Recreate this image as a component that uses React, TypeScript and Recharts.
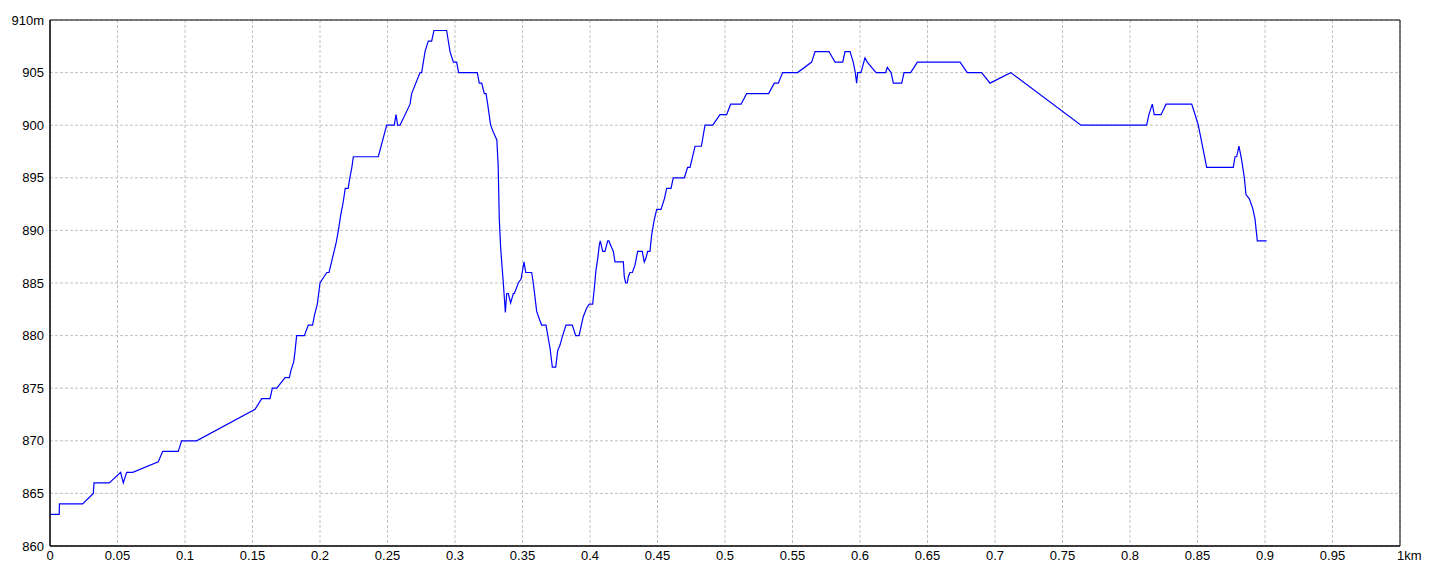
import { LineChart, Line, XAxis, YAxis, CartesianGrid, ReferenceArea } from "recharts";

// distance along the route (km) and elevation (m)
const distances = [
  0, 0.0068, 0.007, 0.0242, 0.0321, 0.0326, 0.0439, 0.0523, 0.0543, 0.0568,
  0.0613, 0.0802, 0.0835, 0.095, 0.0975, 0.1086, 0.1519, 0.1568, 0.163, 0.1647,
  0.168, 0.1741, 0.1773, 0.1785, 0.1805, 0.1815, 0.1827, 0.1884, 0.1913, 0.1945,
  0.196, 0.198, 0.2, 0.205, 0.2067, 0.2089, 0.2121, 0.2136, 0.2154, 0.2172,
  0.2187, 0.2209, 0.2221, 0.2236, 0.2247, 0.2432, 0.2494, 0.255, 0.2563, 0.2575,
  0.2593, 0.2667, 0.2679, 0.2741, 0.2753, 0.2778, 0.2802, 0.2827, 0.2844, 0.2938,
  0.2963, 0.2988, 0.3012, 0.3027, 0.3165, 0.318, 0.3198, 0.3217, 0.323, 0.3242,
  0.3264, 0.3285, 0.331, 0.332, 0.3328, 0.3338, 0.335, 0.3358, 0.3365, 0.3373,
  0.3383, 0.3395, 0.3412, 0.3432, 0.344, 0.3469, 0.349, 0.3511, 0.3524, 0.3568,
  0.358, 0.3605, 0.3624, 0.3642, 0.3674, 0.3704, 0.3721, 0.3746, 0.3761, 0.3778,
  0.3795, 0.3822, 0.3869, 0.3894, 0.3919, 0.3933, 0.395, 0.3975, 0.3995, 0.402,
  0.4032, 0.4044, 0.4057, 0.4069, 0.4076, 0.4094, 0.4111, 0.4131, 0.414, 0.4156,
  0.4173, 0.4185, 0.4247, 0.4254, 0.4264, 0.4276, 0.4284, 0.4296, 0.4314, 0.4333,
  0.4353, 0.4387, 0.4402, 0.4413, 0.4427, 0.4444, 0.4457, 0.4469, 0.4476, 0.4494,
  0.4526, 0.4551, 0.4568, 0.46, 0.4617, 0.4699, 0.4723, 0.4741, 0.4778, 0.4825,
  0.4852, 0.4909, 0.4963, 0.5012, 0.5042, 0.5119, 0.516, 0.5323, 0.5365, 0.5395,
  0.5427, 0.5538, 0.5642, 0.5667, 0.577, 0.5815, 0.5872, 0.5889, 0.5926, 0.595,
  0.5965, 0.5975, 0.5983, 0.6007, 0.6037, 0.6054, 0.6119, 0.619, 0.6202, 0.623,
  0.6247, 0.6309, 0.6326, 0.6375, 0.6425, 0.6741, 0.6795, 0.6901, 0.6963, 0.7116,
  0.7637, 0.8123, 0.814, 0.8165, 0.818, 0.823, 0.8267, 0.8457, 0.8475, 0.8506,
  0.8568, 0.8765, 0.8778, 0.879, 0.8807, 0.8827, 0.8847, 0.8859, 0.8884, 0.8909,
  0.8926, 0.8943, 0.9012,
];

const elevations = [
  863, 863, 864, 864, 865, 866, 866, 867, 866, 867,
  867, 868, 869, 869, 870, 870, 873, 874, 874, 875,
  875, 876, 876, 876.7, 877.5, 878.5, 880, 880, 881, 881,
  882, 883, 885, 886, 886, 887.2, 888.9, 890, 891.5, 892.7,
  894, 894, 895, 896, 897, 897, 900, 900, 901, 900,
  900, 902, 903, 905, 905, 907, 908, 908, 909, 909,
  907, 906, 906, 905, 905, 904, 904, 903, 903, 902,
  900, 899.3, 898.6, 896.1, 891.1, 888.4, 886.3, 885, 883.7, 882.2,
  884, 884, 883.1, 884, 884, 885, 885.4, 887, 886, 886,
  885, 882.3, 881.6, 881, 881, 878.8, 877, 877, 878.6, 879.1,
  879.9, 881, 881, 880, 880, 880.8, 881.8, 882.6, 883, 883,
  884.5, 886.2, 887.3, 888.6, 889, 888, 888, 889, 889, 888.5,
  888, 887, 887, 885.6, 885, 885, 885.6, 886, 886, 886.7,
  888, 888, 887, 887.3, 888, 888, 889.6, 890.5, 891, 892,
  892, 893, 894, 894, 895, 895, 896, 896, 898, 898,
  900, 900, 901, 901, 902, 902, 903, 903, 904, 904,
  905, 905, 906, 907, 907, 906, 906, 907, 907, 906,
  905, 904, 905, 905, 906.4, 906, 905, 905, 905.5, 905,
  904, 904, 905, 905, 906, 906, 905, 905, 904, 905,
  900, 900, 901, 902, 901, 901, 902, 902, 901.3, 900,
  896, 896, 897, 897, 898, 896.7, 895, 893.4, 893, 892.1,
  891.1, 889, 889,
];

const xTicks = [0, 0.05, 0.1, 0.15, 0.2, 0.25, 0.3, 0.35, 0.4, 0.45, 0.5, 0.55, 0.6, 0.65, 0.7, 0.75, 0.8, 0.85, 0.9, 0.95, 1];
const yTicks = [860, 865, 870, 875, 880, 885, 890, 895, 900, 905, 910];

const data = distances.map((d, i) => ({ dist: d, elev: elevations[i] }));

const font = "'Liberation Sans Narrow', 'Liberation Sans', Arial, sans-serif";

const XTick = (props: any) => {
  const { x, y, payload } = props;
  if (payload.value === 1) {
    return (
      <text x={x - 3} y={y} dy="0.71em" textAnchor="start" fontSize={13} fontFamily={font} fill="#000">
        1km
      </text>
    );
  }
  return (
    <text x={x} y={y} dy="0.71em" textAnchor="middle" fontSize={13} fontFamily={font} fill="#000">
      {payload.value}
    </text>
  );
};

export default function App() {
  return (
    <div style={{ position: "absolute", left: 0, top: 0, width: 1440, height: 576, background: "#fff" }}>
      <LineChart width={1440} height={576} data={data} margin={{ top: 20, right: 40, bottom: 0, left: 0 }}>
        <CartesianGrid stroke="#c0c0c0" strokeDasharray="3 2" />
        <XAxis
          dataKey="dist"
          type="number"
          domain={[0, 1]}
          ticks={xTicks}
          height={30}
          tickLine={false}
          tickSize={0}
          tickMargin={5}
          axisLine={{ stroke: "#000" }}
          tick={<XTick />}
          interval={0}
        />
        <YAxis
          type="number"
          domain={[860, 910]}
          ticks={yTicks}
          width={50}
          tickLine={false}
          tickSize={0}
          tickMargin={6}
          axisLine={{ stroke: "#000" }}
          interval={0}
          tick={{ fill: "#000", fontSize: 13, fontFamily: font }}
          tickFormatter={(v: number) => (v === 910 ? "910m" : String(v))}
        />
        <ReferenceArea x1={0} x2={1} y1={860} y2={910} stroke="#000" fill="none" />
        <Line
          type="linear"
          dataKey="elev"
          stroke="#0000ff"
          strokeWidth={1.2}
          dot={false}
          isAnimationActive={false}
        />
      </LineChart>
    </div>
  );
}
